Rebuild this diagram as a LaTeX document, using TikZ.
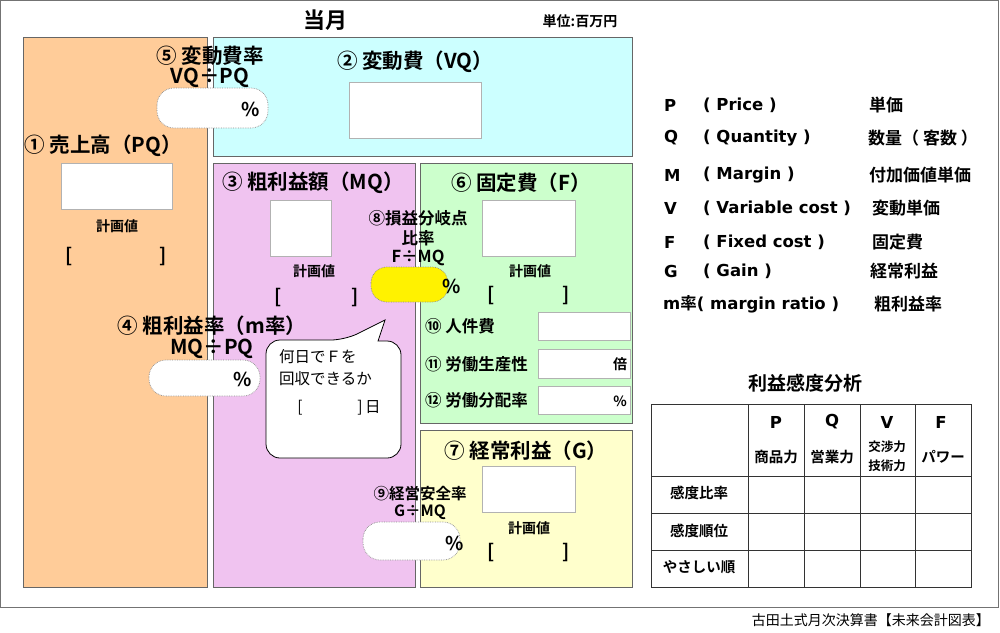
\documentclass[tikz,border=0pt]{standalone}
\usepackage{fontspec}
\setmainfont{Noto Sans CJK JP}[BoldFont={Noto Sans CJK JP Bold}]
\newfontfamily\lat{DejaVu Sans Bold}
\newfontfamily\jpf{Noto Sans CJK JP Bold}
\definecolor{cOr}{HTML}{FFCC99}
\definecolor{cCy}{HTML}{CCFFFF}
\definecolor{cPk}{HTML}{F0C3F0}
\definecolor{cGr}{HTML}{CCFFCC}
\definecolor{cYe}{HTML}{FFFFCC}
\definecolor{cLine}{HTML}{666666}
\tikzset{
 area/.style={draw=cLine,line width=0.8pt},
 wbox/.style={draw=black!30,fill=white,line width=0.6pt},
 pill/.style={draw=black!45,densely dotted,fill=white,rounded corners=17pt,line width=0.7pt},
 hd/.style={font=\bfseries\fontsize{20.5}{21}\selectfont,inner sep=0pt},
 md/.style={font=\bfseries\fontsize{16.5}{17}\selectfont,inner sep=0pt},
 sm/.style={font=\bfseries\fontsize{14}{14}\selectfont,inner sep=0pt},
 br/.style={font=\bfseries\fontsize{19}{19}\selectfont,inner sep=0pt},
 lg/.style={font=\lat\fontsize{16.5}{18}\selectfont,inner sep=0pt,anchor=west},
 lj/.style={font=\bfseries\fontsize{17}{18}\selectfont,inner sep=0pt,anchor=west},
 tb/.style={font=\bfseries\fontsize{14.5}{15}\selectfont,inner sep=0pt},
 cl/.style={font=\fontsize{15.5}{16}\selectfont,inner sep=0pt},
}
\begin{document}
\begin{tikzpicture}[x=1pt,y=-1pt]
\useasboundingbox (0,0) rectangle (1000,632);
\draw[draw=black!55,line width=0.8pt] (0,0) rectangle (998,607);
% areas
\draw[area,fill=cOr] (23,37) rectangle (207,587);
\draw[area,fill=cCy] (213,37) rectangle (632,156);
\draw[area,fill=cPk] (213,163) rectangle (415,587);
\draw[area,fill=cGr] (420,163) rectangle (632,423);
\draw[area,fill=cYe] (420,430) rectangle (632,587);
% header
\node[font=\bfseries\fontsize{22}{22}\selectfont,inner sep=0pt] (title) at (325,20) {当月};
\node[font=\bfseries\fontsize{14}{14}\selectfont,inner sep=0pt] (unit) at (580,21) {単位:百万円};
\node[font=\fontsize{14}{14}\selectfont,inner sep=0pt,anchor=east] (foot) at (990,620) {古田土式月次決算書【未来会計図表】};
% (5)
\node[hd] (l5) at (210,56) {⑤ 変動費率};
\node[hd] (l5b) at (210,78) {VQ÷PQ};
\draw[pill] (157,88) rectangle (268,128);
\node[br] (p5) at (251,109) {\%};
% (2)
\node[hd] (l2) at (415,62) {② 変動費（VQ）};
\draw[wbox] (349,82) rectangle (481,138);
% (1)
\node[hd] (l1) at (103,146) {① 売上高（PQ）};
\draw[wbox] (61,163) rectangle (172,209);
\node[sm] (k1) at (117,226) {計画値};
\node[br] (b1a) at (69,257) {[};
\node[br] (b1b) at (163,257) {]};
% (3)
\node[hd] (l3) at (313,183) {③ 粗利益額（MQ）};
\draw[wbox] (270,200) rectangle (331,256);
\node[sm] (k3) at (314,271) {計画値};
\node[br] (b3a) at (278,297) {[};
\node[br] (b3b) at (355,297) {]};
% (6)
\node[hd] (l6) at (521,183) {⑥ 固定費（F）};
\draw[wbox] (482,200) rectangle (575,256);
\node[sm] (k6) at (530,271) {計画値};
\node[br] (b6a) at (491,295) {[};
\node[br] (b6b) at (566,295) {]};
% (8)
\node[md] (l8) at (418,218) {⑧損益分岐点};
\node[md] (l8b) at (418,238) {比率};
\node[md] (l8c) at (418,258) {F÷MQ};
\draw[pill,fill=yellow,rounded corners=16pt] (371,267) rectangle (448,302);
\node[br] (p8) at (452,286) {\%};
% (4)
\node[hd] (l4) at (212,326) {④ 粗利益率（m率）};
\node[hd] (l4b) at (212,349) {MQ÷PQ};
\draw[pill] (149,360) rectangle (260,396);
\node[br] (p4) at (243,379) {\%};
% callout
\draw[fill=white,line width=0.8pt,rounded corners=14pt] (266,385) -- (266,340) -- (345,340)
  [sharp corners] -- (385,320) -- (378,341) [rounded corners=14pt] -- (401,341) -- (401,458) -- (266,458) -- cycle;
\node[cl,anchor=west] (c1) at (279,357) {何日でＦを};
\node[cl,anchor=west] (c2) at (279,379) {回収できるか};
\node[cl] (c3) at (300,408) {[};
\node[cl] (c4) at (369,408) {]\,日};
% 10-12
\node[md,anchor=west] (l10) at (425,326) {⑩ 人件費};
\draw[wbox] (538,312) rectangle (630,340);
\node[md,anchor=west] (l11) at (425,364) {⑪ 労働生産性};
\draw[wbox] (538,349) rectangle (630,378);
\node[sm] (u11) at (620,364) {倍};
\node[md,anchor=west] (l12) at (425,400) {⑫ 労働分配率};
\draw[wbox] (538,386) rectangle (630,414);
\node[sm] (u12) at (620,401) {\%};
% (7)
\node[hd] (l7) at (526,451) {⑦ 経常利益（G）};
\draw[wbox] (482,466) rectangle (575,512);
\node[sm] (k7) at (529,528) {計画値};
\node[br] (b7a) at (491,552) {[};
\node[br] (b7b) at (566,552) {]};
% (9)
\node[font=\bfseries\fontsize{15.5}{16}\selectfont,inner sep=0pt] (l9) at (420,494) {⑨経営安全率};
\node[font=\bfseries\fontsize{15.5}{16}\selectfont,inner sep=0pt] (l9b) at (420,512) {G÷MQ};
\draw[pill] (363,522) rectangle (460,560);
\node[br] (p9) at (455,543) {\%};
% legend
\foreach \y/\a/\b/\c/\jx in {105/P/( Price )/単価/869, 138/Q/( Quantity )/数量（ 客数 ）/868, 175/M/( Margin )/付加価値単価/869, 208/V/( Variable cost )/変動単価/872, 242/F/( Fixed cost )/固定費/872, 271/G/( Gain )/経常利益/870}{
  \node[lg] at (664,\y) {\a};
  \node[lg] at (703,\y) {\b};
  \node[lj] at (\jx,\y) {\c};
}
\node[lg] (lm) at (663,304) {m{\jpf 率}( margin ratio )};
\node[lj] (lmj) at (874,304) {粗利益率};
% table
\node[font=\bfseries\fontsize{19}{19}\selectfont,inner sep=0pt] (tt) at (805,383) {利益感度分析};
\draw[line width=0.8pt,draw=black!80] (651,404) rectangle (971,587);
\foreach \x in {748,804,860,915} \draw[line width=0.8pt,draw=black!80] (\x,404) -- (\x,587);
\foreach \y in {476,513,550} \draw[line width=0.8pt,draw=black!80] (651,\y) -- (971,\y);
\node[lg,anchor=center] at (776,422) {P};
\node[lg,anchor=center] at (832,422) {Q};
\node[lg,anchor=center] at (887,422) {V};
\node[lg,anchor=center] at (941,422) {F};
\node[tb] at (776,457) {商品力};
\node[tb] at (832,457) {営業力};
\node[font=\bfseries\fontsize{12.5}{13}\selectfont,inner sep=0pt] at (887,447) {交渉力};
\node[font=\bfseries\fontsize{12.5}{13}\selectfont,inner sep=0pt] at (887,466) {技術力};
\node[tb] at (943,457) {パワー};
\node[tb] at (699,493) {感度比率};
\node[tb] at (699,531) {感度順位};
\node[tb] at (699,567) {やさしい順};
\end{tikzpicture}
\end{document}
